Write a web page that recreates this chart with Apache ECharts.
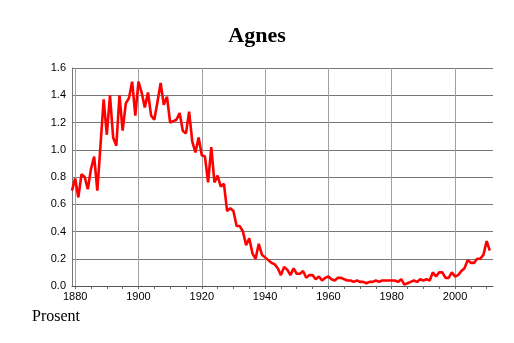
<!DOCTYPE html>
<html><head><meta charset="utf-8">
<script src="https://cdn.jsdelivr.net/npm/echarts@6/dist/echarts.min.js"></script>
<style>html,body{margin:0;padding:0;background:#fff}#c{width:514px;height:343px}</style>
</head><body><div id="c"></div>
<script>
const titleText = "Agnes";
const yAxisNote = "Prosent";
const startYear = 1879;
const values = [
  0.70, 0.79, 0.65, 0.82, 0.80, 0.71, 0.86, 0.95, 0.70, 1.03,
  1.37, 1.11, 1.40, 1.09, 1.03, 1.40, 1.14, 1.34, 1.38, 1.50,
  1.25, 1.50, 1.42, 1.31, 1.42, 1.25, 1.22, 1.35, 1.49, 1.33,
  1.39, 1.20, 1.21, 1.22, 1.27, 1.14, 1.12, 1.28, 1.06, 0.98,
  1.09, 0.96, 0.95, 0.76, 1.02, 0.76, 0.81, 0.73, 0.75, 0.55,
  0.57, 0.55, 0.44, 0.44, 0.40, 0.30, 0.35, 0.24, 0.20, 0.31,
  0.23, 0.21, 0.19, 0.17, 0.16, 0.13, 0.08, 0.14, 0.12, 0.08,
  0.13, 0.09, 0.09, 0.11, 0.06, 0.08, 0.08, 0.05, 0.07, 0.04,
  0.06, 0.07, 0.05, 0.04, 0.06, 0.06, 0.05, 0.04, 0.04, 0.03,
  0.04, 0.03, 0.03, 0.02, 0.03, 0.03, 0.04, 0.03, 0.04, 0.04,
  0.04, 0.04, 0.04, 0.03, 0.05, 0.01, 0.02, 0.03, 0.04, 0.03,
  0.05, 0.04, 0.05, 0.04, 0.10, 0.07, 0.10, 0.10, 0.06, 0.06,
  0.10, 0.07, 0.08, 0.11, 0.13, 0.19, 0.17, 0.17, 0.20, 0.20,
  0.23, 0.33, 0.26
];
const years = values.map((v, i) => startYear + i);
const xTickLabels = [1880, 1900, 1920, 1940, 1960, 1980, 2000];
const xMinorTicks = [1880,1885,1890,1895,1900,1905,1910,1915,1920,1925,1930,1935,1940,1945,1950,1955,1960,1965,1970,1975,1980,1985,1990,1995,2000,2005,2010];

const data = years.map((y, i) => [y, values[i]]);
const chart = echarts.init(document.getElementById('c'), null, {renderer: 'canvas'});
chart.setOption({
  animation: false,
  backgroundColor: '#fff',
  title: {
    text: titleText, left: 'center', top: 20,
    textStyle: {fontFamily: 'Liberation Serif', fontWeight: 'bold', fontSize: 22, color: '#000'}
  },
  graphic: [{
    type: 'text', left: 32, top: 309,
    style: {text: yAxisNote, font: '16px "Liberation Serif"', fill: '#000'}
  }],
  grid: {left: 72, right: 21, top: 68, bottom: 57, containLabel: false},
  xAxis: [{
    type: 'value', min: 1879, max: 2012,
    axisLine: {show: true, onZero: false, lineStyle: {color: '#555', width: 1}},
    axisTick: {show: true, customValues: xTickLabels, length: 3, lineStyle: {color: '#555'}},
    axisLabel: {customValues: xTickLabels, formatter: v => String(v), fontFamily: 'Liberation Sans', fontSize: 11, color: '#000', margin: 5},
    splitLine: {show: false}
  }, {
    type: 'value', min: 1879, max: 2012, position: 'bottom',
    axisLine: {show: false},
    axisTick: {show: true, customValues: xMinorTicks, length: 3, lineStyle: {color: '#666'}},
    axisLabel: {show: false},
    splitLine: {show: false}
  }],
  yAxis: {
    type: 'value', min: 0, max: 1.6, interval: 0.2,
    axisLine: {show: true, lineStyle: {color: '#777', width: 1}},
    axisTick: {show: false},
    axisLabel: {formatter: v => v.toFixed(1), fontFamily: 'Liberation Sans', fontSize: 11, color: '#000', margin: 6},
    splitLine: {show: true, lineStyle: {color: '#777', width: 1}}
  },
  series: [{
    type: 'line', data: data, xAxisIndex: 0, showSymbol: false,
    lineStyle: {color: '#ff0000', width: 2.6}, z: 5,
    markLine: {
      silent: true, symbol: 'none', animation: false,
      label: {show: false},
      lineStyle: {color: '#a0a0a0', width: 1, type: 'solid'},
      data: xTickLabels.map(v => ({xAxis: v})),
      z: 1
    }
  }]
});
</script></body></html>
